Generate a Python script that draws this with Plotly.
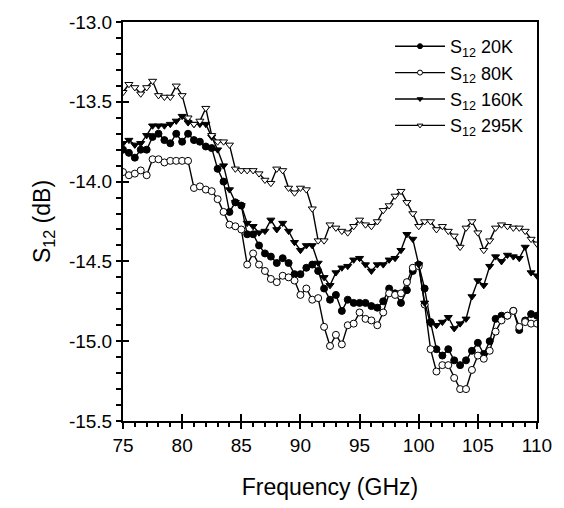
import plotly.graph_objects as go

freq = [75 + 0.5 * i for i in range(71)]

s12_20k = [-13.80, -13.82, -13.85, -13.80, -13.80, -13.72, -13.70, -13.74, -13.76, -13.70, -13.75, -13.70, -13.74, -13.75, -13.78, -13.79,
           -13.92, -14.00, -14.19, -14.13, -14.15, -14.33, -14.33, -14.40, -14.45, -14.47, -14.51, -14.48, -14.51, -14.58, -14.58, -14.54, -14.52, -14.56, -14.67, -14.74,
           -14.71, -14.81, -14.74, -14.76, -14.76, -14.76, -14.78, -14.79, -14.75, -14.67, -14.70, -14.76, -14.68, -14.56, -14.52, -14.67,
           -14.88, -15.05, -15.09, -15.05, -15.12, -15.15, -15.12, -15.06, -15.01, -15.08, -15.00, -14.86, -14.84, -14.84, -14.81, -14.93, -14.87, -14.83, -14.84]

s12_80k = [-13.94, -13.96, -13.95, -13.93, -13.96,
           -13.86, -13.86, -13.88, -13.87, -13.87, -13.87, -13.87,
           -14.04, -14.03, -14.05, -14.06, -14.11, -14.19, -14.27, -14.28, -14.30,
           -14.52, -14.45, -14.52, -14.56, -14.61, -14.63, -14.59, -14.60, -14.62, -14.71, -14.67, -14.74, -14.73,
           -14.91, -15.03, -14.96, -15.02, -14.90, -14.89, -14.82, -14.86, -14.87, -14.90, -14.82, -14.70, -14.71, -14.70, -14.63, -14.54, -14.53,
           -14.77, -15.05, -15.19, -15.15, -15.15, -15.23, -15.30, -15.30, -15.18, -15.09, -15.11, -15.06, -14.94, -14.87, -14.84, -14.81, -14.91, -14.88, -14.89, -14.89]

s12_160k = [-13.76, -13.74, -13.77, -13.76, -13.71, -13.65, -13.65, -13.65, -13.64, -13.62, -13.59, -13.63, -13.64, -13.64, -13.64, -13.72,
            -13.80, -13.90, -14.05, -14.13, -14.15, -14.26, -14.28, -14.32, -14.31, -14.24, -14.30, -14.26, -14.31, -14.38, -14.43, -14.40, -14.40, -14.51, -14.60, -14.65,
            -14.57, -14.54, -14.53, -14.49, -14.48, -14.52, -14.56, -14.52, -14.52, -14.49, -14.48, -14.43, -14.33, -14.36, -14.52, -14.76,
            -14.89, -14.90, -14.88, -14.85, -14.92, -14.89, -14.86, -14.72, -14.62, -14.65, -14.53, -14.47, -14.50, -14.46, -14.47, -14.48, -14.41, -14.57, -14.59]

s12_295k = [-13.44, -13.39, -13.41, -13.45, -13.41, -13.37, -13.46, -13.47, -13.47, -13.40, -13.46, -13.60, -13.64, -13.62, -13.54, -13.71,
            -13.75, -13.75, -13.77, -13.92, -13.93, -13.93, -13.93, -13.95, -13.99, -14.01, -13.92, -13.93, -14.04, -14.07, -14.04, -14.05, -14.17, -14.37, -14.37, -14.27,
            -14.29, -14.31, -14.32, -14.28, -14.24, -14.27, -14.28, -14.25, -14.18, -14.15, -14.09, -14.06, -14.13, -14.20, -14.28, -14.25,
            -14.25, -14.30, -14.28, -14.31, -14.34, -14.41, -14.29, -14.25, -14.32, -14.43, -14.37, -14.29, -14.27, -14.28, -14.29, -14.29, -14.31, -14.36, -14.39]

x_ticks = [75, 80, 85, 90, 95, 100, 105, 110]
y_ticks = [-15.5, -15.0, -14.5, -14.0, -13.5, -13.0]
y_ticktext = ["-15.5", "-15.0", "-14.5", "-14.0", "-13.5", "-13.0"]

series = [
    ("S<sub>12</sub> 20K", s12_20k, "circle", "black"),
    ("S<sub>12</sub> 80K", s12_80k, "circle", "white"),
    ("S<sub>12</sub> 160K", s12_160k, "triangle-down", "black"),
    ("S<sub>12</sub> 295K", s12_295k, "triangle-down", "white"),
]

FONT = "Liberation Sans, Arial, sans-serif"
fig = go.Figure()
for name, ys, sym, fill in series:
    fig.add_trace(go.Scatter(
        x=freq, y=ys, mode="lines+markers", showlegend=False,
        line=dict(color="black", width=1.4),
        marker=dict(symbol=sym, size=7, color=fill, line=dict(color="black", width=1)),
    ))
for name, ys, sym, fill in series:
    fig.add_trace(go.Scatter(
        x=[None], y=[None], mode="lines+markers", name=name, showlegend=True,
        line=dict(color="black", width=1.4),
        marker=dict(symbol=sym, size=5, color=fill, line=dict(color="black", width=1)),
    ))

# inside halves of the crossing major ticks
fig.add_trace(go.Scatter(x=[None], y=[None], xaxis="x2", yaxis="y2", showlegend=False))

fig.update_layout(
    width=564, height=508,
    margin=dict(l=123, r=19, t=17, b=86),
    paper_bgcolor="white", plot_bgcolor="white",
    font=dict(family=FONT, size=18, color="black"),
    xaxis=dict(
        range=[75, 110], tickvals=x_ticks, ticktext=[str(v) for v in x_ticks],
        showgrid=False, zeroline=False,
        showline=True, linecolor="black", linewidth=2, mirror=True,
        ticks="outside", ticklen=6, tickwidth=2, tickcolor="black",
        minor=dict(dtick=1, tick0=75, ticks="outside", ticklen=4, tickwidth=1.5, tickcolor="black"),
        title=dict(text="Frequency (GHz)", font=dict(size=23), standoff=24),
        tickfont=dict(size=19),
    ),
    yaxis=dict(
        range=[-15.5, -13.0], tickvals=y_ticks, ticktext=y_ticktext,
        showgrid=False, zeroline=False,
        showline=True, linecolor="black", linewidth=2, mirror=True,
        ticks="outside", ticklen=5, tickwidth=2, tickcolor="black",
        minor=dict(dtick=0.1, tick0=-13.0, ticks="outside", ticklen=5, tickwidth=1.5, tickcolor="black"),
        title=dict(text="S<sub>12</sub> (dB)", font=dict(size=23), standoff=12),
        tickfont=dict(size=19),
    ),
    xaxis2=dict(
        range=[75, 110], tickvals=x_ticks, overlaying="x", anchor="y2", side="bottom",
        showgrid=False, zeroline=False, showline=False, showticklabels=False,
        ticks="inside", ticklen=7, tickwidth=2, tickcolor="black",
    ),
    yaxis2=dict(
        range=[-15.5, -13.0], tickvals=y_ticks, overlaying="y", anchor="x2", side="left",
        showgrid=False, zeroline=False, showline=False, showticklabels=False,
        ticks="inside", ticklen=6, tickwidth=2, tickcolor="black",
    ),
    legend=dict(
        x=0.645, y=0.985, xanchor="left", yanchor="top",
        bgcolor="rgba(0,0,0,0)", borderwidth=0,
        font=dict(size=18), itemwidth=50,
    ),
)

fig.write_html("out.html")
